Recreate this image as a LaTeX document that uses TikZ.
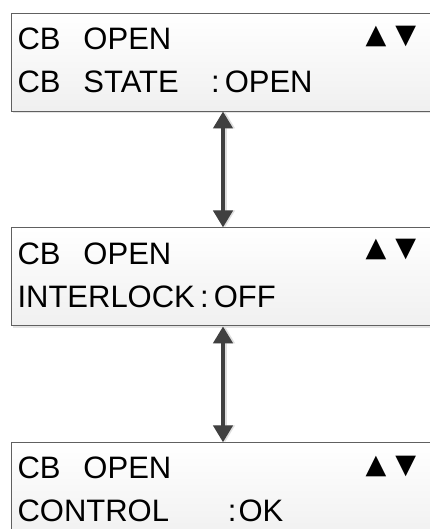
\documentclass[tikz,border=0pt]{standalone}
\usepackage{fontspec}
\setmainfont{Liberation Sans}
\newfontfamily\symfont{DejaVu Sans}
\usetikzlibrary{positioning, arrows.meta, shadows}

\begin{document}
\begin{tikzpicture}[x=1pt, y=1pt,
		node distance=116pt,
		screen/.style={rectangle, draw=gray!75!black, line width=0.9pt, top color=white, bottom color=gray!12, text width=411pt, inner xsep=6.5pt, inner ysep=0pt, minimum height=98pt, align=left, font=\fontsize{31}{43}\selectfont, drop shadow={shadow xshift=2pt, shadow yshift=-2pt, fill=gray!35, opacity=.6}},
		keys/.style={inner sep=0pt, anchor=base east, font=\symfont\fontsize{27}{27}\selectfont},
		arrow/.style={line width=4.5pt, draw=black!75, {Triangle[width=19pt,length=17pt]}-{Triangle[width=19pt,length=17pt]}},
		ghost/.style={arrow, draw=gray!25}
		]
		\useasboundingbox (0,0) rectangle (429,-529);
		
		% Nodes
		\node (b1) [screen] at (223,-62) {\strut\makebox[66pt][l]{CB}OPEN \\ \strut\makebox[66pt][l]{CB}\makebox[127.5pt][l]{STATE}:\,OPEN};
		\node (b2) [screen, below=of b1] {\strut\makebox[66pt][l]{CB}OPEN \\ \strut INTERLOCK\,:\,OFF};
		\node (b3) [screen, below=of b2] {\strut\makebox[66pt][l]{CB}OPEN \\ \strut\makebox[210.5pt][l]{CONTROL}:\kern2pt OK};
		
		% Up/down keys
		\node (k1) [keys] at ([xshift=-19pt, yshift=-31pt]b1.north east) {▲\kern9pt▼};
		\node (k2) [keys] at ([xshift=-19pt, yshift=-29pt]b2.north east) {▲\kern9pt▼};
		\node (k3) [keys] at ([xshift=-19pt, yshift=-31pt]b3.north east) {▲\kern9pt▼};
		
		% Arrows
		\draw [ghost] ([xshift=2pt]b1.south) -- ([xshift=2pt]b2.north);
		\draw [ghost] ([xshift=2pt]b2.south) -- ([xshift=2pt]b3.north);
		\draw [arrow] (b1) -- (b2);
		\draw [arrow] (b2) -- (b3);
		
	\end{tikzpicture}
\end{document}
